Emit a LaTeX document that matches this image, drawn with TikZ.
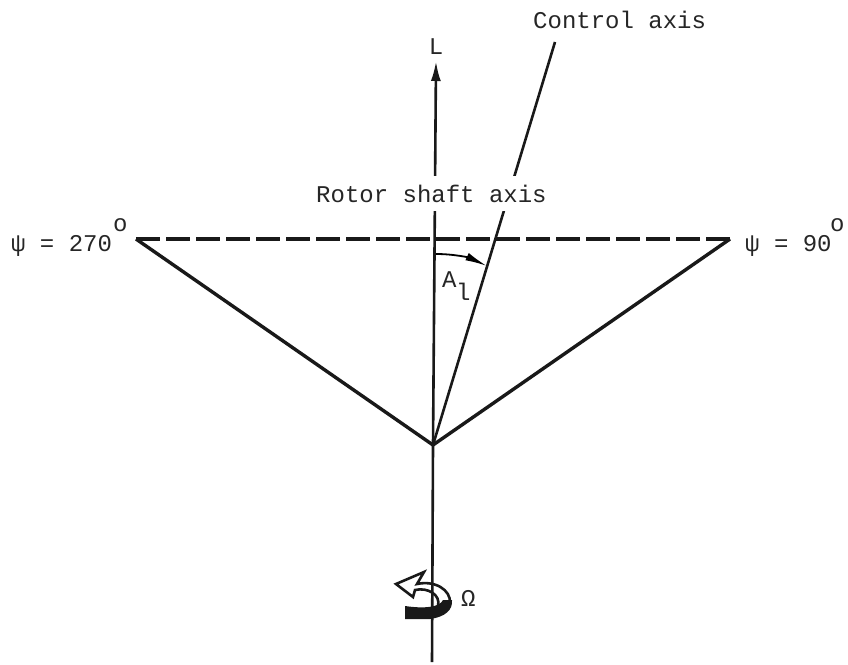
\documentclass[tikz,border=0pt]{standalone}
\usepackage{fontspec}
\setmainfont{Liberation Mono}
\usetikzlibrary{arrows.meta}
\tikzset{
  line/.style={line width=2.6pt,black!90},
  thick line/.style={line width=3.4pt,black!90},
  lab/.style={inner sep=0pt,font=\fontsize{24}{26}\selectfont,text=black!85},
}
\begin{document}
\begin{tikzpicture}[x=1pt,y=-1pt]
\useasboundingbox (0,0) rectangle (848,664);
\coordinate (apex) at (433,445);
\coordinate (left) at (136,239);
\coordinate (right) at (730,239);
\coordinate (top) at (436,61);
\coordinate (bot) at (432,662);
\coordinate (ctrl) at (555,42);
\coordinate (arcs) at (436,254);
\coordinate (arce) at (487,266);
% axis
\draw[line,-{Latex[length=20pt,width=10pt]}] (apex) -- (top);
\draw[line] (apex) -- (bot);
\draw[line] (apex) -- (ctrl);
\draw[thick line] (left) -- (apex) -- (right);
\draw[thick line,dash pattern=on 24pt off 6pt] (left) -- (right);
% angle
\draw[line width=1.8pt,-{Latex[length=22pt,width=8pt]}] (arcs) .. controls (455,254) and (470,258) .. (arce);
% rotation arrow
\fill[black!90] (405,606) -- (405,619) -- (430,619) .. controls (445,617) and (453,610) .. (452,600) -- (443,600) .. controls (440,607) and (425,609) .. (405,606) -- cycle;
\draw[line width=2.6pt,black!90,line join=miter,fill=none]
  (450,603) .. controls (451,590) and (435,580) .. (417,584)
  -- (424,572) -- (396,584) -- (413,597) -- (415,590)
  .. controls (428,587) and (441,595) .. (438,606);
% labels
\node[lab,anchor=base west] (lc) at (533,28) {Control axis};
\node[lab,anchor=base] (ll) at (436,54) {L};
\node[fill=white,lab,anchor=base west,minimum height=35pt] (lr) at (316,202) {Rotor shaft axis};
\node[lab,anchor=base west] (lp1) at (11,251) {ψ = 270};
\node[lab,anchor=base west] (lp1o) at (113,231) {o};
\node[lab,anchor=base west] (lp2) at (745,251) {ψ = 90};
\node[lab,anchor=base west] (lp2o) at (830,231) {o};
\node[lab,anchor=base west] (la) at (442,287) {A};
\node[lab,anchor=base west] (la1) at (456,300) {l};
\node[lab,anchor=base west] (lo) at (461,606) {Ω};
\end{tikzpicture}
\end{document}
